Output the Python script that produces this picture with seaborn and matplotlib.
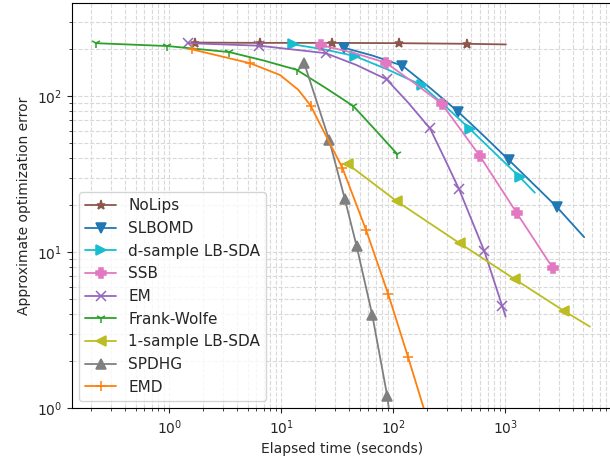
import matplotlib
matplotlib.use("Agg")
import matplotlib.pyplot as plt
import seaborn as sns

# values (time in seconds, approximate error)
nolips_t = [1.70, 6.45, 28.4, 112, 456, 1015]
nolips_e = [221, 220, 220, 219, 217, 215]

slbomd_t = [36.1, 66, 121, 214, 380, 640, 1079, 2877, 5070]
slbomd_e = [205, 182, 157, 113, 79.6, 56, 39.0, 19.6, 12.5]

dsample_t = [12.8, 24, 45.5, 90, 179, 294, 484, 1352, 1840]
dsample_e = [215, 200, 181, 148, 118, 86, 61.7, 30.3, 24.1]

ssb_t = [22.5, 44, 86.1, 153, 271, 594, 1265, 2650]
ssb_e = [213, 190, 164, 122, 89.7, 41.4, 17.9, 7.97]

em_t = [1.48, 6.36, 24.9, 46.6, 87.3, 136, 213, 287, 388, 650, 940, 1009]
em_e = [219, 211, 189, 159, 128.5, 91, 62.3, 40, 25.3, 10.2, 4.53, 3.87]

fw_t = [0.22, 0.96, 3.43, 6.86, 13.7, 24.5, 44.0, 69, 109]
fw_e = [219, 210, 192, 170, 148, 114, 86.6, 61, 42.5]

onesample_t = [39.2, 107, 394, 1222, 3365, 5705]
onesample_e = [36.8, 21.3, 11.4, 6.71, 4.20, 3.34]

spdhg_t = [16.0, 26.8, 37.0, 47.2, 65.0, 88.4, 93.0]
spdhg_e = [164, 52.5, 21.9, 10.9, 3.96, 1.20, 0.90]

emd_t = [1.59, 5.26, 9.74, 14.2, 18.3, 35.2, 57.0, 90.2, 136, 196]
emd_e = [200, 163, 137, 110, 87.1, 34.7, 14.0, 5.40, 2.12, 0.90]

# name, times, errors, colour, marker, which points carry a marker
series = [
    ("NoLips", nolips_t, nolips_e, "#8c564b", "*", [0, 1, 2, 3, 4]),
    ("SLBOMD", slbomd_t, slbomd_e, "#1f77b4", "v", [0, 2, 4, 6, 7]),
    ("d-sample LB-SDA", dsample_t, dsample_e, "#17becf", ">", [0, 2, 4, 6, 7]),
    ("SSB", ssb_t, ssb_e, "#e377c2", "P", [0, 2, 4, 5, 6, 7]),
    ("EM", em_t, em_e, "#9467bd", "x", [0, 1, 2, 4, 6, 8, 9, 10]),
    ("Frank-Wolfe", fw_t, fw_e, "#2ca02c", "1", [0, 1, 2, 4, 6, 8]),
    ("1-sample LB-SDA", onesample_t, onesample_e, "#bcbd22", "<", [0, 1, 2, 3, 4]),
    ("SPDHG", spdhg_t, spdhg_e, "#7f7f7f", "^", [0, 1, 2, 3, 4, 5]),
    ("EMD", emd_t, emd_e, "#ff7f0e", "+", [0, 1, 4, 5, 6, 7, 8]),
]

sns.set_style("ticks", {"axes.edgecolor": "black"})
plt.rcParams["font.family"] = ["DejaVu Sans"]

fig = plt.figure(figsize=(6.10, 4.63), dpi=100)
# right spine sits just past the image edge, as in the cropped original
ax = fig.add_axes([0.1175, 0.1181, 0.8859, 0.8748])

for name, t, e, col, mk, every in series:
    sns.lineplot(x=t, y=e, ax=ax, color=col, marker=mk, markersize=6.5,
                 markeredgecolor=col, markerfacecolor=col, markeredgewidth=1.1,
                 markevery=every, linewidth=1.3, label=name, sort=False,
                 estimator=None)

ax.set_xscale("log")
ax.set_yscale("log")
ax.set_xlim(0.1345, 9000)
ax.set_ylim(1, 394.6)
ax.grid(True, which="both", linestyle="--", color="#d9d9d9", linewidth=0.8)
ax.set_xlabel("Elapsed time (seconds)", fontsize=10)
ax.set_ylabel("Approximate optimization error", fontsize=10)
ax.tick_params(labelsize=10)
ax.legend(loc="lower left", fontsize=11, framealpha=0.8)

fig.savefig("out.png", dpi=100)
